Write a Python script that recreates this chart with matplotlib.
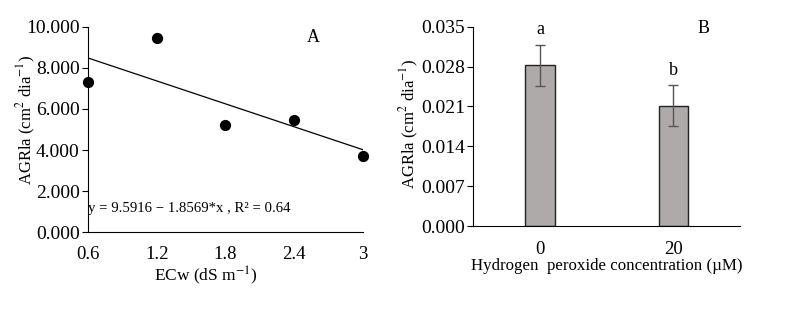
import matplotlib.pyplot as plt
import numpy as np

# Painel A: dados de AGRla vs ECw
ecw = [0.6, 1.2, 1.8, 2.4, 3.0]
agrla_a = [7.33, 9.47, 5.24, 5.46, 3.73]
fit_a, fit_b = 9.5916, -1.8569
xticks_a = [0.6, 1.2, 1.8, 2.4, 3.0]
xticklabels_a = ['0.6', '1.2', '1.8', '2.4', '3']
yticks_a = [0, 2, 4, 6, 8, 10]

# Painel B: peróxido de hidrogênio
h2o2_labels = ['0', '20']
agrla_b = [0.0282, 0.0211]
agrla_b_err = [0.0036, 0.0036]
letters_b = ['a', 'b']
yticks_b = [0.0, 0.007, 0.014, 0.021, 0.028, 0.035]

plt.rcParams['font.family'] = ['Liberation Serif', 'DejaVu Serif']
plt.rcParams['mathtext.fontset'] = 'stix'

TICK_FS = 14
LABEL_FS = 12

fig = plt.figure(figsize=(7.98, 3.12), dpi=100)
ax1 = fig.add_axes([0.1103, 0.2554, 0.3442, 0.6591])
ax2 = fig.add_axes([0.5931, 0.2756, 0.3342, 0.6389])

# === Painel A ===
ax1.scatter(ecw, agrla_a, s=50, color='black', zorder=3, clip_on=False)
xl = np.array([ecw[0], ecw[-1]])
ax1.plot(xl, fit_a + fit_b * xl, color='black', linewidth=0.9)
ax1.set_xlim(0.6, 3.0)
ax1.set_ylim(0, 10)
ax1.set_xticks(xticks_a)
ax1.set_xticklabels(xticklabels_a)
ax1.set_yticks(yticks_a)
ax1.set_yticklabels([f'{v:.3f}' for v in yticks_a])
ax1.tick_params(axis='x', length=0, labelsize=TICK_FS - 0.5, pad=10)
ax1.tick_params(axis='y', length=4, labelsize=TICK_FS, pad=2)
ax1.set_xlabel('ECw (dS m$^{-1}$)', fontsize=LABEL_FS + 0.5)
ax1.xaxis.set_label_coords(0.43, -0.158)
ax1.set_ylabel('AGRla (cm$^{2}$ dia$^{-1}$)', fontsize=LABEL_FS)
ax1.yaxis.set_label_coords(-0.182, 0.546)
ax1.text(0.6, 1.17, 'y = 9.5916 \u2212 1.8569*x , R\u00b2 = 0.64', fontsize=10.6,
         va='center', ha='left')
ax1.text(2.57, 9.45, 'A', fontsize=13, va='center', ha='center')
for s in ['top', 'right']:
    ax1.spines[s].set_visible(False)

# === Painel B ===
xb = np.arange(len(h2o2_labels))
ax2.bar(xb, agrla_b, width=0.22, color='#aeaaaa', edgecolor='#222222', linewidth=1.0)
ax2.errorbar(xb, agrla_b, yerr=agrla_b_err, fmt='none', ecolor='#555555',
             elinewidth=1.0, capsize=3.5, capthick=1.0)
for i, (v, e, l) in enumerate(zip(agrla_b, agrla_b_err, letters_b)):
    ax2.text(i, v + e + 0.0012, l, fontsize=13, ha='center', va='bottom')
ax2.set_xlim(-0.5, 1.5)
ax2.set_ylim(0, 0.035)
ax2.set_xticks(xb)
ax2.set_xticklabels(h2o2_labels)
ax2.set_yticks(yticks_b)
ax2.set_yticklabels([f'{v:.3f}' for v in yticks_b])
ax2.tick_params(axis='x', length=0, labelsize=TICK_FS - 0.5, pad=11)
ax2.tick_params(axis='y', length=4, labelsize=TICK_FS, pad=2)
ax2.set_xlabel('Hydrogen  peroxide concentration (\u00b5M)', fontsize=LABEL_FS + 0.2)
ax2.xaxis.set_label_coords(0.5, -0.16)
ax2.set_ylabel('AGRla (cm$^{2}$ dia$^{-1}$)', fontsize=LABEL_FS)
ax2.yaxis.set_label_coords(-0.196, 0.512)
ax2.text(1.23, 0.0346, 'B', fontsize=13, va='center', ha='center')
for s in ['top', 'right']:
    ax2.spines[s].set_visible(False)

fig.savefig('out.png', dpi=100)
